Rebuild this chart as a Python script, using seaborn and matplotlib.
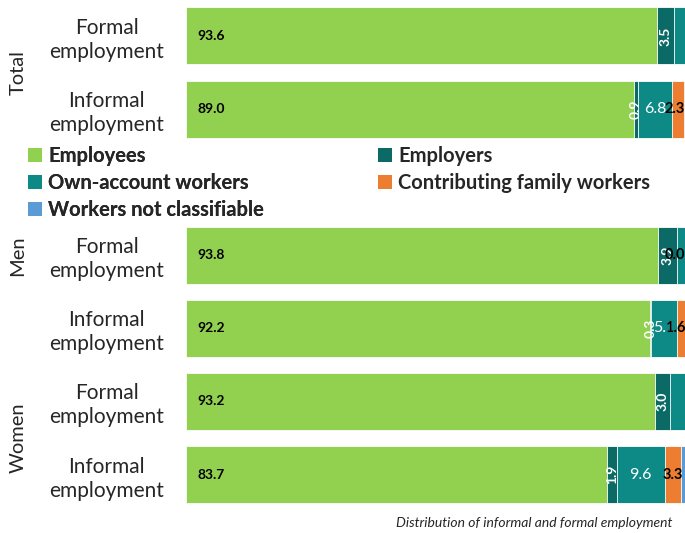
import numpy as np
import pandas as pd
import matplotlib
matplotlib.use("Agg")
import matplotlib.pyplot as plt
import seaborn as sns
from matplotlib.patches import Patch

# rows of the chart, top to bottom (a blank slot is left for the legend)
row_ids = ["total_formal", "total_informal", "men_formal",
           "men_informal", "women_formal", "women_informal"]
row_order = ["total_formal", "total_informal", "gap", "men_formal",
             "men_informal", "women_formal", "women_informal"]
row_labels = ["Formal\nemployment", "Informal\nemployment", "",
              "Formal\nemployment", "Informal\nemployment",
              "Formal\nemployment", "Informal\nemployment"]

# shares in % (Employees, Employers, Own-account, Contributing, Not classifiable)
employees = [93.6, 89.0, 93.8, 92.2, 93.2, 83.7]
employers = [3.5, 0.9, 3.9, 0.3, 3.0, 1.9]
own_account = [2.9, 6.8, 2.3, 5.1, 3.8, 9.6]
contributing = [0.0, 2.3, 0.0, 1.6, 0.0, 3.3]
not_classifiable = [0.0, 1.0, 0.0, 0.8, 0.0, 1.5]

# which of the small segments carry a value label in the original
show_own = [False, True, False, True, False, True]
show_contrib = [False, True, True, True, False, True]

series_names = ["Employees", "Employers", "Own-account workers",
                "Contributing family workers", "Workers not classifiable"]
colors = ["#92D050", "#0B6A66", "#0E8A86", "#ED7D31", "#5B9BD5"]

sns.set_theme(style="white")
plt.rcParams["font.family"] = ["Lato", "DejaVu Sans"]

values = np.array([employees, employers, own_account, contributing, not_classifiable]).T
cums = values.cumsum(axis=1)

fig = plt.figure(figsize=(6.85, 5.33), dpi=100)
ax = fig.add_axes([186 / 685, 0.0480, 503 / 685, 0.9462])

# stacked bars: draw running totals from the longest down, each covering the last
for k in range(len(series_names) - 1, -1, -1):
    df = pd.DataFrame({"row": row_ids, "value": cums[:, k]})
    sns.barplot(data=df, x="value", y="row", order=row_order, orient="h",
                color=colors[k], saturation=1, width=0.78, errorbar=None,
                edgecolor="white", linewidth=0.6, ax=ax)

ax.set_xlim(0, 100)
ax.set_ylim(6.45, -0.45)
sns.despine(ax=ax, left=True, bottom=True)
ax.set_xticks([])
ax.set_xlabel("")
ax.set_ylabel("")
ax.set_yticks(range(len(row_order)))
ax.set_yticklabels(row_labels, fontsize=15, linespacing=1.25)
for lab in ax.get_yticklabels():
    lab.set_ha("center")
    lab.set_multialignment("center")
ax.tick_params(axis="y", length=0, pad=57)

# value labels
for i, rid in enumerate(row_ids):
    y = row_order.index(rid)
    ax.text(2.2, y, f"{employees[i]:.1f}", ha="left", va="center",
            fontsize=10, fontweight="bold", color="black")
    x_emp = cums[i, 0] + employers[i] / 2
    ax.text(x_emp, y, f"{employers[i]:.1f}", ha="center", va="center",
            rotation=90, fontsize=10, fontweight="bold", color="white")
    if show_own[i]:
        x_own = cums[i, 1] + own_account[i] / 2
        ax.text(x_own, y, f"{own_account[i]:.1f}", ha="center", va="center",
                fontsize=11.5, color="white")
    if show_contrib[i]:
        x_con = min(cums[i, 2] + contributing[i] / 2, 97.2)
        ax.text(x_con, y, f"{contributing[i]:.1f}", ha="center", va="center",
                fontsize=10.5, fontweight="bold", color="black")

# group labels on the left
ytrans = ax.get_yaxis_transform()
for name, ypos in [("Total", 0.5), ("Men", 3), ("Women", 5.5)]:
    ax.text(-168 / 503, ypos, name, transform=ytrans, rotation=90,
            ha="center", va="center", fontsize=14.5)

# legend in the gap, two columns placed separately
handles = [Patch(facecolor=c, edgecolor="none") for c in colors]
leg_kw = dict(frameon=False, prop={"size": 14.5, "weight": "bold"},
              handlelength=0.7, handleheight=0.7, handletextpad=0.3,
              labelspacing=0.35, borderpad=0, borderaxespad=0, loc="upper left")
leg1 = fig.legend([handles[0], handles[2], handles[4]],
                  [series_names[0], series_names[2], series_names[4]],
                  bbox_to_anchor=(28 / 685, 1 - 146 / 533), **leg_kw)
fig.add_artist(leg1)
fig.legend([handles[1], handles[3]], [series_names[1], series_names[3]],
           bbox_to_anchor=(378 / 685, 1 - 146 / 533), **leg_kw)

fig.text(672 / 685, 1 - 523 / 533, "Distribution of informal and formal employment",
         ha="right", va="center", fontsize=10, style="italic")

fig.savefig("out.png", dpi=100)
